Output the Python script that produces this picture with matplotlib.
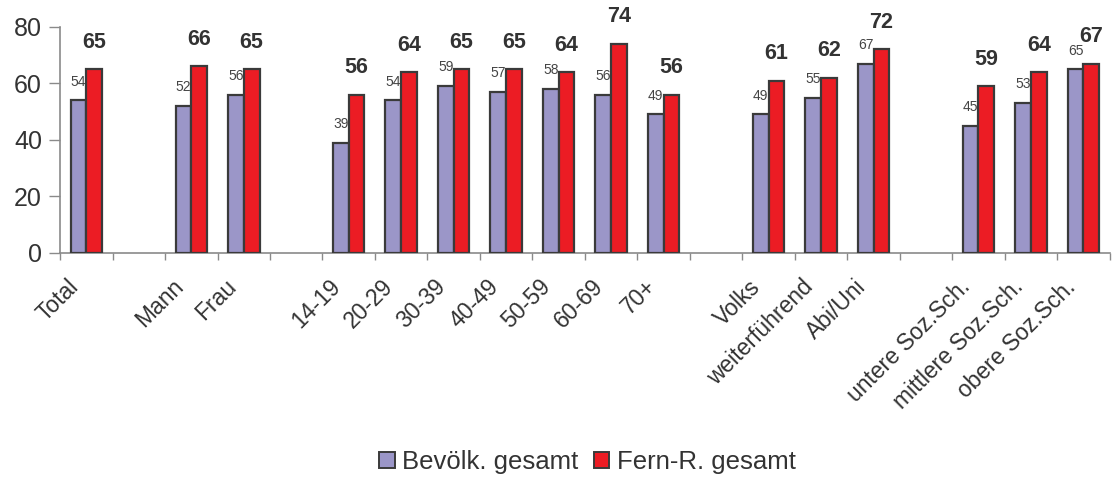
"""Grouped bar chart: Bevölkerung gesamt vs. Fern-R. gesamt by demographic group."""

import matplotlib

matplotlib.use("Agg")
import matplotlib.pyplot as plt
import numpy as np
from matplotlib.patches import Patch

CATEGORIES = [
    "Total",
    "Mann", "Frau",
    "14-19", "20-29", "30-39", "40-49", "50-59", "60-69", "70+",
    "Volks", "weiterführend", "Abi/Uni",
    "untere Soz.Sch.", "mittlere Soz.Sch.", "obere Soz.Sch.",
]
GROUP_SIZES = [1, 2, 7, 3, 3]
BEVOELK = [54, 52, 56, 39, 54, 59, 57, 58, 56, 49, 49, 55, 67, 45, 53, 65]
FERN_R = [65, 66, 65, 56, 64, 65, 65, 64, 74, 56, 61, 62, 72, 59, 64, 67]
SERIES_LABELS = ["Bevölk. gesamt", "Fern-R. gesamt"]

PURPLE = "#9b96c8"
RED = "#ec1c24"
EDGE = "#3a3a3a"
TEXT = "#333333"
AXIS = "#8a8a8a"

plt.rcParams["font.family"] = ["Liberation Sans", "DejaVu Sans"]

# slot positions: one empty slot between groups
positions = []
slot = 0
for size in GROUP_SIZES:
    for _ in range(size):
        positions.append(slot)
        slot += 1
    slot += 1
n_slots = slot - 1
x = np.array(positions, dtype=float)

fig = plt.figure(figsize=(11.13, 4.8), dpi=100)
ax = fig.add_axes([0.054, 0.473, 0.943, 0.471])

w = 0.3
ax.bar(x - w / 2, BEVOELK, w, color=PURPLE, edgecolor=EDGE, linewidth=1.6, zorder=3)
ax.bar(x + w / 2, FERN_R, w, color=RED, edgecolor=EDGE, linewidth=1.6, zorder=3)

for xi, b, f in zip(x, BEVOELK, FERN_R):
    ax.annotate(str(b), (xi - w / 2, b), xytext=(0, 13.5), textcoords="offset points",
                ha="center", va="center", fontsize=10, color="#444444")
    ax.annotate(str(f), (xi + w / 2, f), xytext=(0, 19.5), textcoords="offset points",
                ha="center", va="center", fontsize=15.5, fontweight="bold", color=TEXT)

ax.set_xlim(-0.5, n_slots - 0.5)
ax.set_ylim(0, 80)
ax.set_yticks([0, 20, 40, 60, 80])

# category labels, rotated, ending just left of each category centre
ax.set_xticks(np.arange(n_slots + 1) - 0.5)
ax.set_xticklabels([])
for xi, name in zip(x, CATEGORIES):
    ax.annotate(name, (xi, 0), xytext=(-14, -16), textcoords="offset points",
                rotation=45, rotation_mode="anchor", ha="right", va="top",
                fontsize=16.5, color=TEXT, annotation_clip=False)
ax.tick_params(axis="x", which="major", length=5, width=1, color=AXIS)
ax.tick_params(axis="y", length=8, width=1, color=AXIS, labelsize=18, labelcolor=TEXT, pad=5)

ax.spines[["top", "right"]].set_visible(False)
ax.spines[["left", "bottom"]].set_color(AXIS)
ax.spines[["left", "bottom"]].set_linewidth(1.2)

handles = [
    Patch(facecolor=PURPLE, edgecolor=EDGE, linewidth=1.4),
    Patch(facecolor=RED, edgecolor=EDGE, linewidth=1.4),
]
fig.legend(handles, SERIES_LABELS, loc="center", bbox_to_anchor=(0.528, 0.037),
           ncol=2, frameon=False, fontsize=18.5, handlelength=0.6, handleheight=0.6,
           handletextpad=0.3, columnspacing=0.6, labelcolor=TEXT)

fig.savefig("out.png", dpi=100)
